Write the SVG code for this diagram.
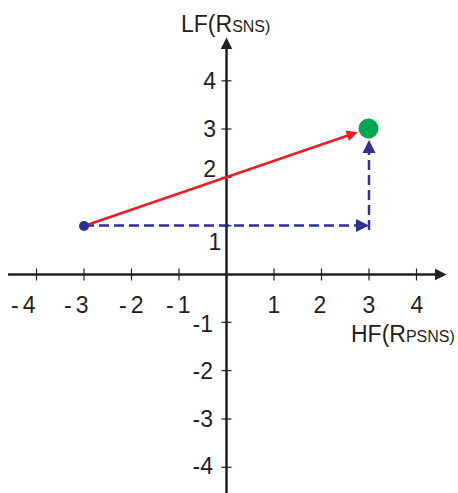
<svg xmlns="http://www.w3.org/2000/svg" width="458" height="493" viewBox="0 0 458 493">
<style>
.axis{stroke:#231f20;stroke-width:2.5;fill:none}
.tick{stroke:#231f20;stroke-width:1.2}
.lbl{font-family:"Liberation Sans",Arial,sans-serif;font-size:23px;fill:#231f20}
.neg{letter-spacing:4px}
.small{font-size:16px}
.red{stroke:#ed1c24;stroke-width:2.5;fill:none}
.blue{stroke:#2e3192;stroke-width:2.5;fill:none;stroke-dasharray:10 5}
</style>
<defs>
<marker id="ah-axis" markerUnits="userSpaceOnUse" viewBox="0 0 10 10" refX="7" refY="5" markerWidth="12" markerHeight="12" orient="auto"><path d="M0,0 L10,5 L0,10 z" fill="#231f20"/></marker>
<marker id="ah-red" markerUnits="userSpaceOnUse" viewBox="0 0 10 10" refX="7.7" refY="5" markerWidth="13" markerHeight="11" orient="auto"><path d="M0,0 L10,5 L0,10 z" fill="#ed1c24"/></marker>
<marker id="ah-blue" markerUnits="userSpaceOnUse" viewBox="0 0 10 10" refX="7.7" refY="5" markerWidth="13" markerHeight="14" orient="auto"><path d="M0,0 L10,5 L0,10 z" fill="#2e3192"/></marker>
</defs>
<g id="axes">
<line class="axis" x1="8" y1="274.5" x2="443" y2="274.5" marker-end="url(#ah-axis)"/>
<line class="axis" x1="226.5" y1="493" x2="226.5" y2="41" marker-end="url(#ah-axis)"/>
<g id="x-ticks">
<line class="tick" x1="36.5" y1="268.5" x2="36.5" y2="280.5"/>
<line class="tick" x1="84" y1="268.5" x2="84" y2="280.5"/>
<line class="tick" x1="131.5" y1="268.5" x2="131.5" y2="280.5"/>
<line class="tick" x1="179" y1="268.5" x2="179" y2="280.5"/>
<line class="tick" x1="274" y1="268.5" x2="274" y2="280.5"/>
<line class="tick" x1="321.5" y1="268.5" x2="321.5" y2="280.5"/>
<line class="tick" x1="369" y1="268.5" x2="369" y2="280.5"/>
<line class="tick" x1="416.5" y1="268.5" x2="416.5" y2="280.5"/>
</g>
<g id="y-ticks">
<line class="tick" x1="221.5" y1="80.8" x2="231.5" y2="80.8"/>
<line class="tick" x1="221.5" y1="129" x2="231.5" y2="129"/>
<line class="tick" x1="221.5" y1="177.4" x2="231.5" y2="177.4"/>
<line class="tick" x1="221.5" y1="225.7" x2="231.5" y2="225.7"/>
<line class="tick" x1="221.5" y1="322.3" x2="231.5" y2="322.3"/>
<line class="tick" x1="221.5" y1="370.6" x2="231.5" y2="370.6"/>
<line class="tick" x1="221.5" y1="419" x2="231.5" y2="419"/>
<line class="tick" x1="221.5" y1="467.3" x2="231.5" y2="467.3"/>
</g>
</g>
<g id="x-labels" class="lbl">
<text class="neg" x="11" y="313">-4</text>
<text class="neg" x="64" y="313">-3</text>
<text class="neg" x="119" y="313">-2</text>
<text class="neg" x="166" y="313">-1</text>
<text x="274" y="313" text-anchor="middle">1</text>
<text x="320" y="313" text-anchor="middle">2</text>
<text x="369" y="313" text-anchor="middle">3</text>
<text x="417" y="313" text-anchor="middle">4</text>
</g>
<g id="y-labels" class="lbl">
<text x="216" y="89" text-anchor="end">4</text>
<text x="216" y="137" text-anchor="end">3</text>
<text x="216" y="177" text-anchor="end">2</text>
<text x="215" y="250" text-anchor="middle">1</text>
<text x="213" y="332" text-anchor="end">-1</text>
<text x="213" y="379" text-anchor="end">-2</text>
<text x="213" y="427" text-anchor="end">-3</text>
<text x="213" y="474" text-anchor="end">-4</text>
</g>
<g id="axis-titles" class="lbl">
<text id="lf-title" x="181" y="32">LF(R<tspan class="small">SNS)</tspan></text>
<text id="hf-title" x="351" y="342">HF(R<tspan class="small">PSNS)</tspan></text>
</g>
<g id="connectors">
<line class="blue" x1="84" y1="225.5" x2="366" y2="225.5" marker-end="url(#ah-blue)"/>
<line class="blue" x1="369" y1="230" x2="369" y2="143" marker-end="url(#ah-blue)"/>
<line class="red" x1="84" y1="226" x2="355.2" y2="133" marker-end="url(#ah-red)"/>
</g>
<g id="start-point"><circle cx="84" cy="226" r="5" fill="#2e3192"/></g>
<g id="end-point"><circle cx="368.5" cy="128.5" r="10" fill="#00a651"/></g>
</svg>
